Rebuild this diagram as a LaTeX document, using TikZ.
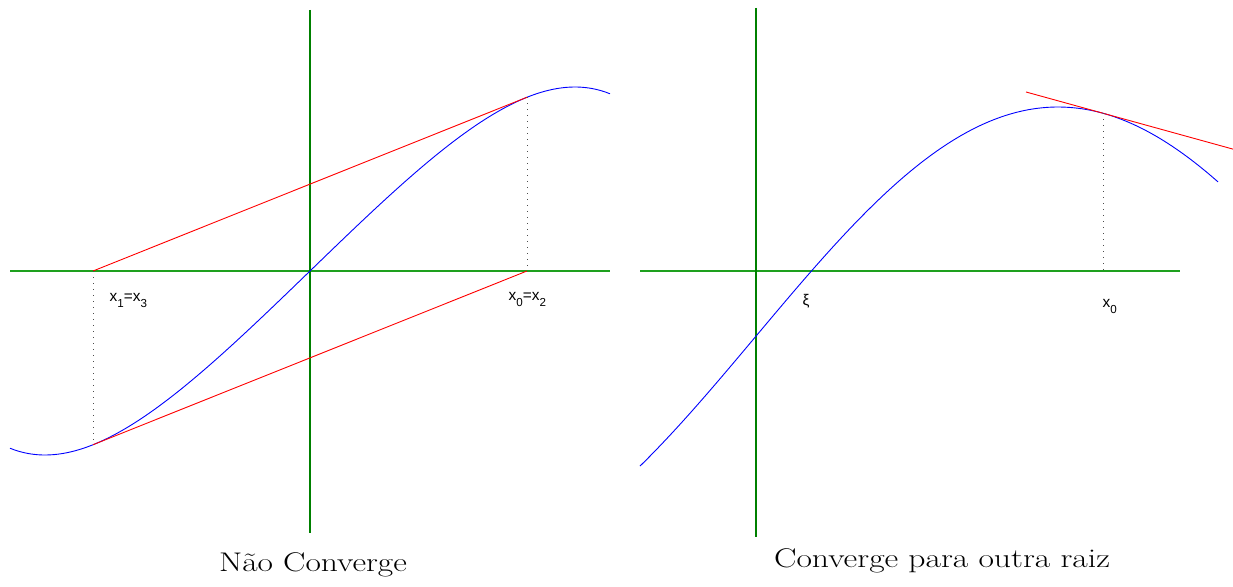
\documentclass[tikz,border=0pt]{standalone}
\usepackage{fontspec}
\newfontfamily\lblfont{Liberation Sans}
\definecolor{axgreen}{RGB}{0,128,0}
\definecolor{hgreen}{RGB}{30,160,30}
\newcommand{\lsub}[1]{\raisebox{-6pt}{\fontsize{11.6}{13}\selectfont #1}}
\begin{document}
\begin{tikzpicture}[x=1pt,y=-1pt,
  axis/.style={hgreen,line width=1.1pt},
  vaxis/.style={axgreen,line width=1.8pt},
  curve/.style={blue,line width=0.9pt},
  tangent/.style={red,line width=0.9pt},
  guide/.style={black!70,line width=0.8pt,dash pattern=on 0.8pt off 5.2pt},
  lbl/.style={inner sep=0pt,anchor=base west,font=\lblfont\fontsize{15.4}{17}\selectfont},
  caption/.style={inner sep=0pt,anchor=base,font=\fontsize{27}{32}\selectfont}]
\useasboundingbox (0,0) rectangle (1233,586);
% ---- left plot ----
\coordinate (lxa) at (10,271);
\coordinate (lxb) at (610,271);
\coordinate (lya) at (310,10);
\coordinate (lyb) at (310,533);
\draw[axis] (lxa) -- (lxb);
\draw[vaxis] (lya) -- (lyb);
\draw[curve] plot[domain=10:610,samples=150,variable=\x]
  ({\x},{271-184*(1.3933*((\x-310)/265)-0.2866*((\x-310)/265)^3-0.1067*((\x-310)/265)^5)});
\coordinate (x1) at (93,271);
\coordinate (x0) at (527,271);
\coordinate (p0) at (527,97.25);
\coordinate (p1) at (93,444.75);
\draw[tangent] (x1) -- (p0);
\draw[tangent] (p1) -- (x0);
\draw[guide] (p0) -- (x0);
\draw[guide] (x1) -- (p1);
\node[lbl] (l13) at (109.5,301.5) {x\lsub{1}=x\lsub{3}};
\node[lbl] (l02) at (508.5,300) {x\lsub{0}=x\lsub{2}};
\node[caption] (capL) at (313,571) {\scalebox{1.24}[1]{Não Converge}};
% ---- right plot ----
\coordinate (rxa) at (640,271);
\coordinate (rxb) at (1180,271);
\coordinate (rya) at (756,8);
\coordinate (ryb) at (756,537);
\draw[axis] (rxa) -- (rxb);
\draw[vaxis] (rya) -- (ryb);
\draw[curve] plot[domain=640:1218,samples=150,variable=\x]
  ({\x},{336-229*cos(0.0052*(\x-1058) r)});
\coordinate (q0) at (1103,113.24);
\coordinate (r0) at (1103,271);
\coordinate (ta) at (1026,91.98);
\coordinate (tb) at (1233,149.13);
\draw[tangent] (ta) -- (tb);
\draw[guide] (q0) -- (r0);
\node[lbl] (xi) at (802.5,305) {ξ};
\node[lbl] (rx0) at (1102.5,307) {x\lsub{0}};
\node[caption] (capR) at (942,567) {\scalebox{1.245}[1]{Converge para outra raiz}};
\end{tikzpicture}
\end{document}
